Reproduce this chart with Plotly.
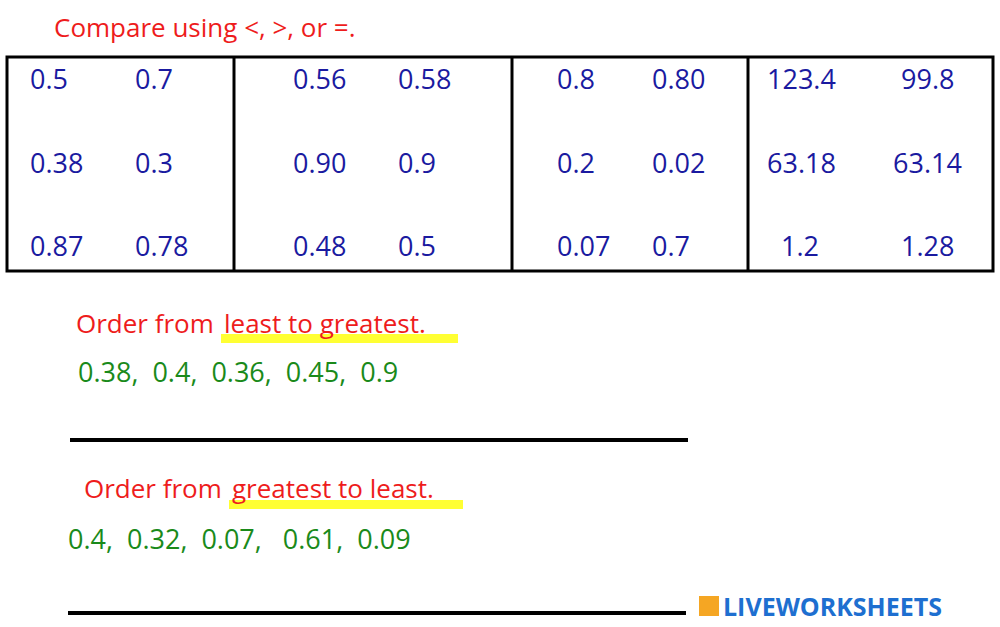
import plotly.graph_objects as go

# comparison pairs, one list per box, rows top to bottom
box1 = [("0.5", "0.7"), ("0.38", "0.3"), ("0.87", "0.78")]
box2 = [("0.56", "0.58"), ("0.90", "0.9"), ("0.48", "0.5")]
box3 = [("0.8", "0.80"), ("0.2", "0.02"), ("0.07", "0.7")]
box4 = [("123.4", "99.8"), ("63.18", "63.14"), ("1.2", "1.28")]

order_up = "0.38,  0.4,  0.36,  0.45,  0.9"
order_down = "0.4,  0.32,  0.07,   0.61,  0.09"

FONT = "Comic Sans MS, Open Sans, DejaVu Sans"
BLUE = "#1a1aa0"
RED = "#ee1c1c"
GREEN = "#1a8a1a"

fig = go.Figure()
ann = []
shapes = []

def txt(x, y, s, color, size, anchor="left", bold=False):
    ann.append(dict(x=x, y=y, text=f"<b>{s}</b>" if bold else s, showarrow=False,
                    xanchor=anchor, yanchor="middle",
                    font=dict(family=FONT, size=size, color=color)))

txt(52, 27, "Compare using <, >, or =.", RED, 26)

# table frame
shapes.append(dict(type="rect", x0=7, x1=993, y0=57, y1=271,
                   line=dict(color="black", width=3)))
for xv in [234, 512, 748]:
    shapes.append(dict(type="line", x0=xv, x1=xv, y0=57, y1=271,
                       line=dict(color="black", width=3)))

rows_y = [78, 162, 245]
cols = [(box1, [28, 133], ["left", "left"]),
        (box2, [291, 396], ["left", "left"]),
        (box3, [555, 650], ["left", "left"]),
        (box4, [765, 927], ["left", "center"])]
for box, xs, anchors in cols:
    for (a, b), y in zip(box, rows_y):
        txt(xs[0], y, a, BLUE, 27, anchors[0])
        txt(xs[1], y, b, BLUE, 27, anchors[1])
ann[-2]["x"] = 800; ann[-2]["xanchor"] = "center"

# ordering tasks
shapes.append(dict(type="rect", x0=221, x1=458, y0=334, y1=343,
                   fillcolor="#ffff33", line=dict(width=0), layer="below"))
txt(216, 323, "Order from", RED, 26, "right")
txt(222, 323, "least to greatest.", RED, 26)
txt(76, 371, order_up, GREEN, 27)
shapes.append(dict(type="line", x0=70, x1=688, y0=440, y1=440,
                   line=dict(color="black", width=4)))

shapes.append(dict(type="rect", x0=229, x1=463, y0=500, y1=509,
                   fillcolor="#ffff33", line=dict(width=0), layer="below"))
txt(224, 488, "Order from", RED, 26, "right")
txt(230, 488, "greatest to least.", RED, 26)
txt(66, 538, order_down, GREEN, 27)
shapes.append(dict(type="line", x0=68, x1=686, y0=613, y1=613,
                   line=dict(color="black", width=4)))

# logo
shapes.append(dict(type="rect", x0=699, x1=719, y0=596, y1=616,
                   fillcolor="#f5a623", line=dict(width=0)))
txt(721, 606, "LIVEWORKSHEETS", "#1e6fd0", 25, bold=True)

fig.update_layout(
    width=1000, height=627, margin=dict(l=0, r=0, t=0, b=0),
    paper_bgcolor="white", plot_bgcolor="white",
    xaxis=dict(range=[0, 1000], visible=False, fixedrange=True),
    yaxis=dict(range=[627, 0], visible=False, fixedrange=True),
    annotations=ann, shapes=shapes, showlegend=False,
)
fig.write_html("out.html", config={"displayModeBar": False},
               post_script="document.body.style.margin='0';")
